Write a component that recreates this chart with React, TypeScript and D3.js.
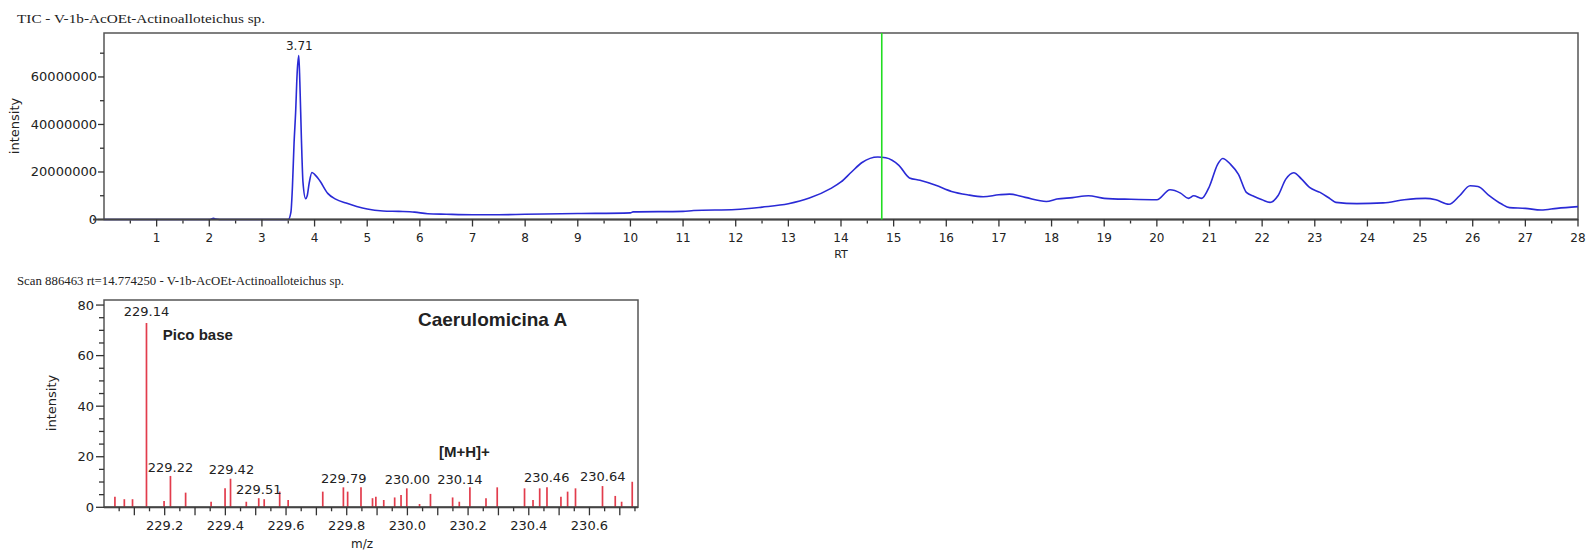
import React, { useEffect, useRef } from "react";
import * as d3 from "d3";

const W = 1589;
const H = 550;

// TIC chromatogram: retention time (min) and intensity (millions)
const ticRt = [0, 2.0, 2.08, 2.12, 2.2, 3.5, 3.55, 3.58, 3.61, 3.64, 3.67, 3.7, 3.72, 3.75, 3.78, 3.83, 3.86, 3.9, 3.95, 4.0, 4.1, 4.25, 4.4, 4.6, 4.8, 5.0, 5.3, 5.6, 5.9, 6.15, 6.5, 7.0, 7.5, 8.0, 9.0, 10.0, 10.05, 11.0, 11.2, 12.0, 12.5, 13.0, 13.4, 13.8, 14.0, 14.2, 14.4, 14.7, 14.85, 15.1, 15.3, 15.5, 15.8, 16.1, 16.4, 16.7, 17.0, 17.2, 17.5, 17.9, 18.1, 18.4, 18.7, 19.0, 19.5, 20.0, 20.25, 20.45, 20.6, 20.7, 20.85, 21.0, 21.15, 21.25, 21.4, 21.55, 21.7, 21.85, 22.0, 22.15, 22.3, 22.45, 22.6, 22.75, 22.9, 23.1, 23.3, 23.4, 23.8, 24.3, 24.7, 25.1, 25.3, 25.55, 25.75, 25.95, 26.1, 26.3, 26.55, 26.7, 27.0, 27.3, 27.6, 28.0];
const ticIntM = [0, 0, 0.5, 0.2, 0, 0, 3, 14, 32, 45, 62, 69, 58, 34, 15.6, 8.8, 10, 15.6, 19.8, 19, 16.3, 11, 8.6, 6.9, 5.5, 4.4, 3.6, 3.4, 3.1, 2.4, 2.2, 2.0, 2.0, 2.2, 2.5, 2.8, 3.2, 3.4, 3.8, 4.2, 5.2, 6.6, 9, 13, 15.8, 20, 24, 26.3, 26, 22.8, 17.5, 16.5, 14.4, 11.8, 10.4, 9.6, 10.4, 10.7, 9.3, 7.6, 8.6, 9.2, 10.0, 8.9, 8.5, 8.3, 12.5, 11.1, 8.9, 10, 8.9, 14, 23, 25.7, 23.2, 19, 11.4, 9.7, 8.3, 7.2, 10, 17, 19.7, 17, 13.5, 11.4, 8.6, 7.2, 6.7, 7, 8.3, 8.9, 8.3, 6.4, 10, 14.2, 13.9, 10.3, 6.5, 5, 4.7, 4, 4.7, 5.4];
const rtTicks = d3.range(1, 29);
const ticYTicks = [0, 20000000, 40000000, 60000000];
const scanRt = 14.77425;
const apexRt = 3.71;
const apexLabel = "3.71";

// mass spectrum at rt = 14.77
const mzValues = [229.036, 229.067, 229.094, 229.14, 229.198, 229.219, 229.269, 229.353, 229.399, 229.417, 229.469, 229.51, 229.528, 229.579, 229.607, 229.721, 229.789, 229.803, 229.847, 229.885, 229.896, 229.922, 229.958, 229.979, 229.998, 230.04, 230.076, 230.149, 230.171, 230.206, 230.259, 230.296, 230.386, 230.414, 230.436, 230.46, 230.506, 230.528, 230.554, 230.643, 230.685, 230.706, 230.741];
const mzIntensity = [4.2, 3.2, 3.2, 72.9, 2.5, 12.4, 5.8, 2.2, 7.5, 11.3, 2.2, 3.6, 3.2, 6.2, 2.9, 6.2, 7.9, 6.2, 7.9, 3.6, 4.2, 2.9, 3.9, 4.9, 7.5, 1.3, 5.3, 3.9, 2.2, 7.9, 3.6, 7.9, 7.5, 2.9, 7.5, 7.9, 4.2, 6.2, 7.5, 8.4, 4.5, 2.2, 10.1];
const mzTickLabels = ["229.2", "229.4", "229.6", "229.8", "230.0", "230.2", "230.4", "230.6"];
const msYTicks = [0, 20, 40, 60, 80];
// peak labels: text, anchor m/z, anchor intensity
const peakLabels = ["229.14", "229.22", "229.42", "229.51", "229.79", "230.00", "230.14", "230.46", "230.64"];
const peakLabelMz = [229.14, 229.219, 229.42, 229.51, 229.79, 230.0, 230.173, 230.459, 230.644];
const peakLabelInt = [75.6, 13.9, 13.1, 5.3, 9.8, 9.2, 9.2, 10.0, 10.4];

const App = () => {
    const svgRef = useRef(null);

    useEffect(() => {
        const svg = d3.select(svgRef.current);
        svg.selectAll("*").remove();

        const numFont = "'DejaVu Sans', Verdana, sans-serif";
        const serif = "'Liberation Serif', 'Times New Roman', serif";
        const bold = "'Liberation Sans', Arial, sans-serif";

        // ---------- TIC ----------
        const x = d3.scaleLinear().domain([0, 28]).range([104, 1578]);
        const y = d3.scaleLinear().domain([0, 78.5e6]).range([219.5, 33]);

        svg.append("text")
            .attr("x", 17).attr("y", 23)
            .attr("font-family", serif).attr("font-size", 13.5)
            .attr("textLength", 248).attr("lengthAdjust", "spacingAndGlyphs")
            .attr("fill", "#222")
            .text("TIC - V-1b-AcOEt-Actinoalloteichus sp.");

        svg.append("rect")
            .attr("x", x(0)).attr("y", y.range()[1])
            .attr("width", x(28) - x(0)).attr("height", y(0) - y.range()[1])
            .attr("fill", "none").attr("stroke", "#555").attr("stroke-width", 1.5);

        const line = d3.line()
            .x((d, i) => x(ticRt[i]))
            .y((d) => y(d * 1e6))
            .curve(d3.curveMonotoneX);
        svg.append("path")
            .attr("d", line(ticIntM))
            .attr("fill", "none").attr("stroke", "#2a2ad6").attr("stroke-width", 1.6);

        // y ticks
        d3.range(0, 78e6, 10e6).forEach((v) => {
            const major = v % 20e6 === 0;
            svg.append("line")
                .attr("x1", x(0) - (major ? 6 : 4)).attr("x2", x(0))
                .attr("y1", y(v)).attr("y2", y(v))
                .attr("stroke", "#333").attr("stroke-width", 1.3);
        });
        svg.selectAll(".tyl").data(ticYTicks).join("text")
            .attr("x", 97).attr("y", (d) => y(d) + 4.5)
            .attr("text-anchor", "end")
            .attr("font-family", numFont).attr("font-size", 13)
            .attr("fill", "#222")
            .text((d) => d);
        svg.append("text")
            .attr("transform", "translate(19,126) rotate(-90)")
            .attr("text-anchor", "middle")
            .attr("font-family", numFont).attr("font-size", 13)
            .attr("fill", "#222")
            .text("intensity");

        // x axis (drawn over the baseline of the trace)
        svg.append("line")
            .attr("x1", 93).attr("x2", x(28)).attr("y1", y(0)).attr("y2", y(0))
            .attr("stroke", "#444").attr("stroke-width", 2);
        d3.range(0.5, 28.01, 0.5).forEach((v) => {
            const major = Math.abs(v - Math.round(v)) < 1e-6;
            svg.append("line")
                .attr("x1", x(v)).attr("x2", x(v))
                .attr("y1", y(0) + (major ? 0 : 1)).attr("y2", y(0) + (major ? 7 : 4))
                .attr("stroke", "#333").attr("stroke-width", 1.3);
        });
        svg.selectAll(".txl").data(rtTicks).join("text")
            .attr("x", (d) => x(d)).attr("y", 242)
            .attr("text-anchor", "middle")
            .attr("font-family", numFont).attr("font-size", 12)
            .attr("fill", "#222")
            .text((d) => d);
        svg.append("text")
            .attr("x", (x(0) + x(28)) / 2).attr("y", 258)
            .attr("text-anchor", "middle")
            .attr("font-family", numFont).attr("font-size", 11)
            .attr("fill", "#222")
            .text("RT");

        svg.append("line")
            .attr("x1", x(scanRt)).attr("x2", x(scanRt))
            .attr("y1", y.range()[1]).attr("y2", y(0))
            .attr("stroke", "#22dd22").attr("stroke-width", 1.6);

        svg.append("text")
            .attr("x", x(apexRt)).attr("y", 50)
            .attr("text-anchor", "middle")
            .attr("font-family", numFont).attr("font-size", 12)
            .attr("fill", "#222")
            .text(apexLabel);

        // ---------- Mass spectrum ----------
        const mx = d3.scaleLinear().domain([229.0, 230.76]).range([104, 638]);
        const my = d3.scaleLinear().domain([0, 82]).range([507.3, 300]);

        svg.append("text")
            .attr("x", 17).attr("y", 285)
            .attr("font-family", serif).attr("font-size", 13.5)
            .attr("textLength", 327).attr("lengthAdjust", "spacingAndGlyphs")
            .attr("fill", "#222")
            .text("Scan 886463 rt=14.774250 - V-1b-AcOEt-Actinoalloteichus sp.");

        svg.append("rect")
            .attr("x", mx.range()[0]).attr("y", my.range()[1])
            .attr("width", mx.range()[1] - mx.range()[0]).attr("height", my(0) - my.range()[1])
            .attr("fill", "none").attr("stroke", "#555").attr("stroke-width", 1.5);

        d3.range(0, 81, 5).forEach((v) => {
            const major = v % 20 === 0;
            svg.append("line")
                .attr("x1", mx.range()[0] - (major ? 8 : 5)).attr("x2", mx.range()[0])
                .attr("y1", my(v)).attr("y2", my(v))
                .attr("stroke", "#333").attr("stroke-width", 1.3);
        });
        svg.selectAll(".myl").data(msYTicks).join("text")
            .attr("x", 94).attr("y", (d) => my(d) + 4.5)
            .attr("text-anchor", "end")
            .attr("font-family", numFont).attr("font-size", 13)
            .attr("fill", "#222")
            .text((d) => d);
        svg.append("text")
            .attr("transform", "translate(56,403) rotate(-90)")
            .attr("text-anchor", "middle")
            .attr("font-family", numFont).attr("font-size", 13)
            .attr("fill", "#222")
            .text("intensity");

        svg.selectAll(".bar").data(mzValues).join("line")
            .attr("x1", (d) => mx(d)).attr("x2", (d) => mx(d))
            .attr("y1", my(0)).attr("y2", (d, i) => my(mzIntensity[i]))
            .attr("stroke", "#e23c4c").attr("stroke-width", 1.7);

        svg.append("line")
            .attr("x1", mx.range()[0]).attr("x2", mx.range()[1]).attr("y1", my(0)).attr("y2", my(0))
            .attr("stroke", "#444").attr("stroke-width", 2);
        d3.range(229.05, 230.76, 0.05).forEach((v) => {
            const major = Math.abs(v * 10 - Math.round(v * 10)) < 1e-6;
            svg.append("line")
                .attr("x1", mx(v)).attr("x2", mx(v))
                .attr("y1", my(0)).attr("y2", my(0) + (major ? 8 : 4))
                .attr("stroke", "#333").attr("stroke-width", 1.3);
        });
        svg.selectAll(".mxl").data(mzTickLabels).join("text")
            .attr("x", (d) => mx(+d)).attr("y", 530)
            .attr("text-anchor", "middle")
            .attr("font-family", numFont).attr("font-size", 13)
            .attr("fill", "#222")
            .text((d) => d);
        svg.append("text")
            .attr("x", 362).attr("y", 548)
            .attr("text-anchor", "middle")
            .attr("font-family", numFont).attr("font-size", 12)
            .attr("fill", "#222")
            .text("m/z");

        svg.selectAll(".pl").data(peakLabels).join("text")
            .attr("x", (d, i) => mx(peakLabelMz[i])).attr("y", (d, i) => my(peakLabelInt[i]))
            .attr("text-anchor", "middle")
            .attr("font-family", numFont).attr("font-size", 13)
            .attr("fill", "#222")
            .text((d) => d);

        svg.append("text")
            .attr("x", 418).attr("y", 326)
            .attr("font-family", bold).attr("font-weight", "bold").attr("font-size", 19)
            .attr("fill", "#222")
            .text("Caerulomicina A");
        svg.append("text")
            .attr("x", mx(229.194)).attr("y", my(66.3))
            .attr("font-family", bold).attr("font-weight", "bold").attr("font-size", 15)
            .attr("fill", "#222")
            .text("Pico base");
        svg.append("text")
            .attr("x", 439).attr("y", 457)
            .attr("font-family", bold).attr("font-weight", "bold").attr("font-size", 15)
            .attr("fill", "#222")
            .text("[M+H]+");
    }, []);

    return (
        <svg
            ref={svgRef}
            width={W}
            height={H}
            style={{ position: "absolute", left: 0, top: 0, background: "#fff" }}
        ></svg>
    );
};

export default App;
